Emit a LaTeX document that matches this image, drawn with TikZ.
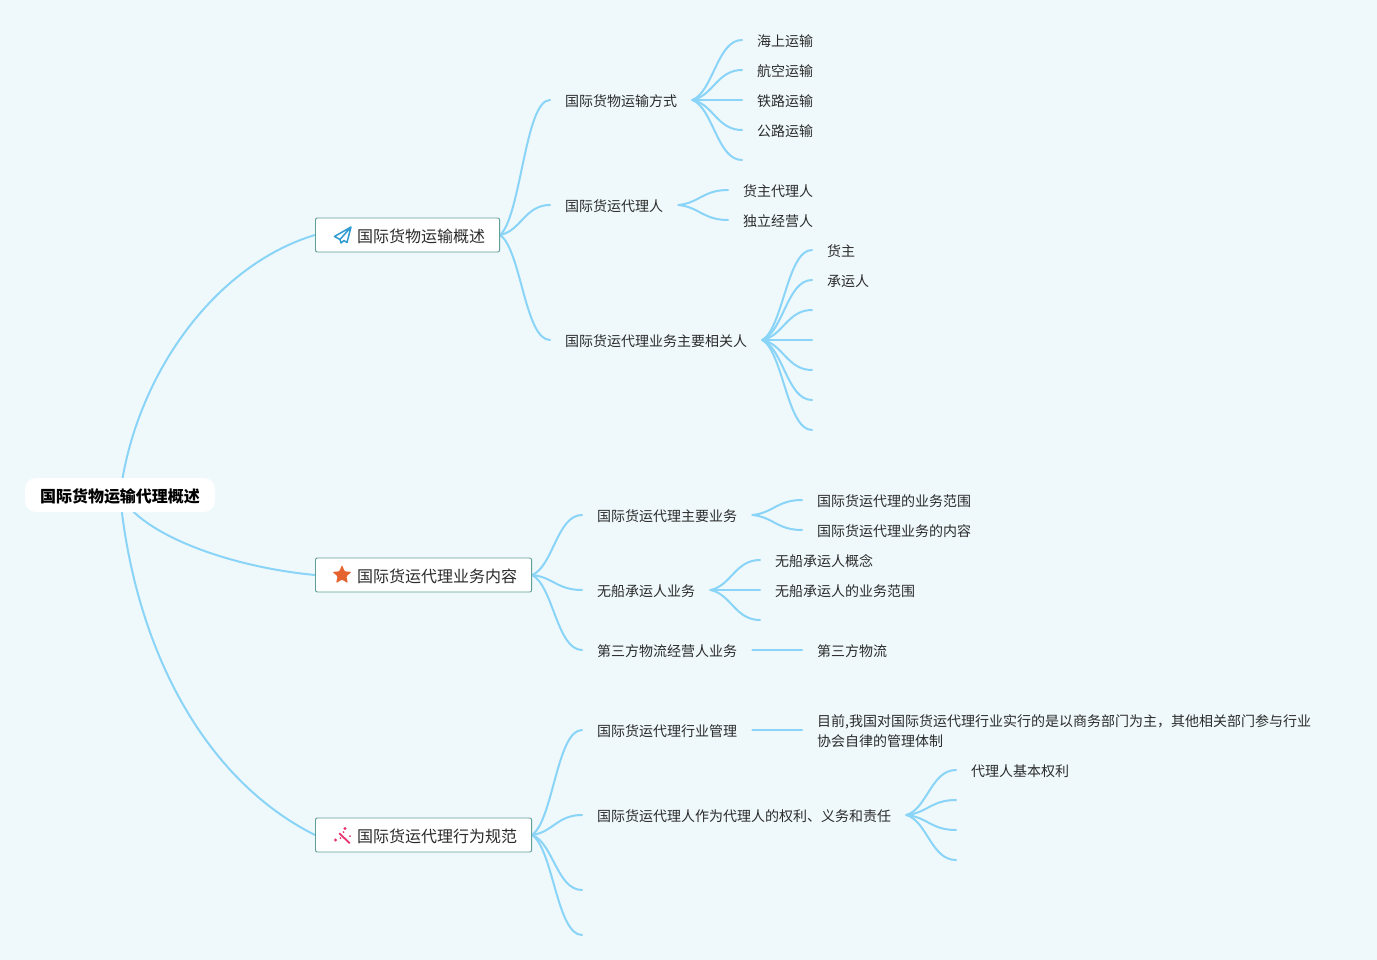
\documentclass[tikz,border=0pt]{standalone}
\usepackage{fontspec}
\setmainfont{Noto Sans CJK SC}
\usetikzlibrary{calc,backgrounds,shapes.geometric}
\definecolor{pagebg}{HTML}{EFF9FC}
\definecolor{linkc}{HTML}{8AD4F7}
\definecolor{boxc}{HTML}{5F9F98}
\definecolor{txt}{HTML}{2B2B2B}
\definecolor{planec}{HTML}{2F9BD0}
\definecolor{starc}{HTML}{E5632F}
\definecolor{wandc}{HTML}{E8336E}
\tikzset{
  lnk/.style={draw=linkc,line width=2pt,line cap=round},
  leafbase/.style={anchor=west,inner xsep=15pt,inner ysep=0pt,text=txt,font=\fontsize{14}{20}\selectfont},
  leaf/.style={leafbase,text height=14pt,text depth=1.36pt},
  topicbox/.style={anchor=west,draw=boxc,line width=0.9pt,fill=white,rounded corners=2pt,minimum height=34pt,inner xsep=14.6pt,inner ysep=0pt,text height=16.1pt,text depth=1.92pt,text=txt,font=\fontsize{16}{20}\selectfont},
  rootbox/.style={fill=white,rounded corners=11pt,minimum width=190pt,minimum height=34pt,inner sep=0pt,text height=16.1pt,text depth=1.92pt,text=black,font=\fontsize{16}{20}\selectfont\bfseries},
}
\newcommand\lnk[2]{\draw[lnk] let \p1=(#1),\p2=(#2),\n1={\x2-\x1},\n2={\y2-\y1} in
  (\p1) .. controls ({\x1+.42*\n1},{\y1+.14*\n2}) and ({\x1+.5*\n1},{\y2}) .. (\p2);}
\begin{document}
\begin{tikzpicture}[x=1pt,y=-1pt]
\useasboundingbox (0,0) rectangle (1377,960);
% root
\node[rootbox] (root) at (120,495) {国际货物运输代理概述};
% topics
\node[topicbox] (A) at (315,235) {\hspace*{27pt}国际货物运输概述};
\node[topicbox] (B) at (315,575) {\hspace*{27pt}国际货运代理业务内容};
\node[topicbox] (C) at (315,835) {\hspace*{27pt}国际货运代理行为规范};
% branch A
\node[leaf] (a1) at (550,100) {国际货物运输方式};
\node[leaf] (a2) at (550,205) {国际货运代理人};
\node[leaf] (a3) at (550,340) {国际货运代理业务主要相关人};
\node[leaf] (a11) at (742,40) {海上运输};
\node[leaf] (a12) at (742,70) {航空运输};
\node[leaf] (a13) at (742,100) {铁路运输};
\node[leaf] (a14) at (742,130) {公路运输};
\coordinate (a15) at (742,160);
\node[leaf] (a21) at (728,190) {货主代理人};
\node[leaf] (a22) at (728,220) {独立经营人};
\node[leaf] (a31) at (812,250) {货主};
\node[leaf] (a32) at (812,280) {承运人};
\coordinate (a33) at (812,310);
\coordinate (a34) at (812,340);
\coordinate (a35) at (812,370);
\coordinate (a36) at (812,400);
\coordinate (a37) at (812,430);
% branch B
\node[leaf] (b1) at (582,515) {国际货运代理主要业务};
\node[leaf] (b2) at (582,590) {无船承运人业务};
\node[leaf] (b3) at (582,650) {第三方物流经营人业务};
\node[leaf] (b11) at (802,500) {国际货运代理的业务范围};
\node[leaf] (b12) at (802,530) {国际货运代理业务的内容};
\node[leaf] (b21) at (760,560) {无船承运人概念};
\node[leaf] (b22) at (760,590) {无船承运人的业务范围};
\coordinate (b23) at (760,620);
\node[leaf] (b31) at (802,650) {第三方物流};
% branch C
\node[leaf] (c1) at (582,730) {国际货运代理行业管理};
\node[leaf] (c2) at (582,815) {国际货运代理人作为代理人的权利、义务和责任};
\coordinate (c3) at (582,890);
\coordinate (c4) at (582,935);
\node[leafbase,align=left] (c11) at (802,731) {目前,我国对国际货运代理行业实行的是以商务部门为主，其他相关部门参与行业\\协会自律的管理体制};
\coordinate (c11in) at (802,730);
\node[leaf] (c21) at (956,770) {代理人基本权利};
\coordinate (c22) at (956,800);
\coordinate (c23) at (956,830);
\coordinate (c24) at (956,860);
% icons
\draw[draw=planec,line width=1.5pt,line join=round]
  (351,227) -- (334.5,236.5) -- (340,239.5) -- (341,243) -- (344,240.5) -- (347,242.5) -- cycle
  (351,227) -- (340,239.5);
\node[star,star points=5,star point ratio=2.2,fill=starc,rounded corners=1pt,minimum size=20pt,inner sep=0pt] (staricon) at (342,575) {};
\draw[draw=wandc,line width=1.8pt,line cap=round] (339.5,833.5) -- (349.5,843);
\fill[wandc] (335.5,840) circle (1.7pt) (340.5,838) circle (1pt) (345,828.5) circle (1.7pt) (350,836) circle (1pt) (343.5,832) circle (1pt);
% connectors
\begin{scope}[on background layer]
\fill[pagebg] (0,0) rectangle (1377,960);
\draw[lnk] (root.center) .. controls (135,375) and (215,265) .. (A.west);
\draw[lnk] (root.center) .. controls (142,535) and (230,567) .. (B.west);
\draw[lnk] (root.center) .. controls (135,650) and (205,780) .. (C.west);
\foreach \s/\t in {A.east/a1.west,A.east/a2.west,A.east/a3.west,
  a1.east/a11.west,a1.east/a12.west,a1.east/a13.west,a1.east/a14.west,a1.east/a15,
  a2.east/a21.west,a2.east/a22.west,
  a3.east/a31.west,a3.east/a32.west,a3.east/a33,a3.east/a34,a3.east/a35,a3.east/a36,a3.east/a37,
  B.east/b1.west,B.east/b2.west,B.east/b3.west,
  b1.east/b11.west,b1.east/b12.west,
  b2.east/b21.west,b2.east/b22.west,b2.east/b23,
  b3.east/b31.west,
  C.east/c1.west,C.east/c2.west,C.east/c3,C.east/c4,
  c1.east/c11in,
  c2.east/c21.west,c2.east/c22,c2.east/c23,c2.east/c24}{\lnk{\s}{\t}}
\end{scope}
\end{tikzpicture}
\end{document}
